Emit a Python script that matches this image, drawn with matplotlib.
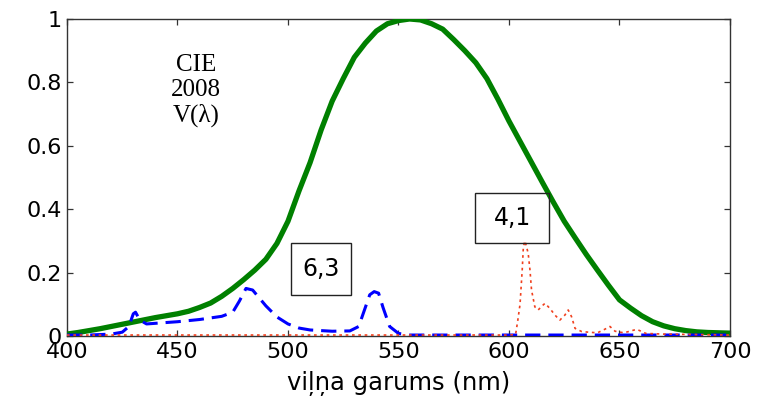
import matplotlib
matplotlib.use("Agg")
import matplotlib.pyplot as plt
from matplotlib.patches import Rectangle

# CIE 2008 V(lambda) - green solid
wl_v = [400, 405, 410, 415, 420, 425, 430, 435, 440, 445, 450, 455, 460, 465, 470,
        475, 480, 485, 490, 495, 500, 505, 510, 515, 520, 525, 530, 535, 540, 545,
        550, 555, 560, 565, 570, 575, 580, 585, 590, 595, 600, 605, 610, 615, 620,
        625, 630, 635, 640, 645, 650, 655, 660, 665, 670, 675, 680, 685, 690, 695, 700]
v_lambda = [0.006, 0.011, 0.017, 0.023, 0.030, 0.037, 0.044, 0.051, 0.058, 0.064, 0.070,
            0.078, 0.090, 0.104, 0.125, 0.150, 0.178, 0.208, 0.242, 0.292, 0.362, 0.458,
            0.547, 0.650, 0.741, 0.812, 0.879, 0.924, 0.962, 0.985, 0.995, 1.000, 0.997,
            0.985, 0.968, 0.935, 0.900, 0.862, 0.812, 0.747, 0.678, 0.614, 0.550, 0.486,
            0.423, 0.362, 0.309, 0.257, 0.208, 0.160, 0.114, 0.088, 0.064, 0.045, 0.032,
            0.023, 0.017, 0.013, 0.011, 0.010, 0.009]

# Spectrum "6,3" - blue dashed
wl_b = [400, 410, 420, 425, 428, 430, 431, 433, 436, 440, 450, 460, 470, 475, 478,
        481, 484, 487, 490, 495, 500, 505, 510, 520, 528, 532, 535, 537, 539, 541,
        543, 546, 550, 555, 600, 650, 700]
spec_63 = [0.003, 0.003, 0.006, 0.012, 0.030, 0.070, 0.075, 0.050, 0.038, 0.040, 0.045,
           0.052, 0.062, 0.075, 0.110, 0.150, 0.145, 0.120, 0.095, 0.060, 0.038, 0.025,
           0.019, 0.015, 0.016, 0.030, 0.090, 0.130, 0.140, 0.135, 0.090, 0.030, 0.008,
           0.003, 0.003, 0.003, 0.003]

# Spectrum "4,1" - red dotted
wl_r = [400, 500, 600, 603, 604, 605, 606, 606.5, 607.2, 608, 608.7, 609.5, 610.2,
        611.7, 613.2, 615, 616.3, 618.5, 620.8, 623, 625.3, 626.8, 628.3, 629.9,
        632.9, 636, 640, 643, 645.7, 648, 652, 657.8, 662, 670, 680, 690, 700]
spec_41 = [0.003, 0.003, 0.003, 0.005, 0.050, 0.100, 0.210, 0.280, 0.300, 0.280, 0.260,
           0.208, 0.145, 0.092, 0.082, 0.095, 0.103, 0.087, 0.066, 0.050, 0.066, 0.082,
           0.061, 0.024, 0.014, 0.012, 0.010, 0.020, 0.030, 0.015, 0.010, 0.021, 0.008,
           0.006, 0.005, 0.004, 0.003]

x_ticks = [400, 450, 500, 550, 600, 650, 700]
y_ticks = [0, 0.2, 0.4, 0.6, 0.8, 1]
y_tick_labels = ["0", "0.2", "0.4", "0.6", "0.8", "1"]
x_label = "viļņa garums (nm)"
curve_label = "CIE\n2008\nV(λ)"
box_labels = ["6,3", "4,1"]

sans = ["DejaVu Sans"]
serif = ["Liberation Serif", "DejaVu Serif"]

fig = plt.figure(figsize=(7.57, 4.05), dpi=100)
ax = fig.add_axes([0.0885, 0.1704, 0.8758, 0.7827])

ax.plot(wl_v, v_lambda, color="#008000", lw=3.8, solid_capstyle="butt", zorder=3)
ax.plot(wl_b, spec_63, color="#0000ff", lw=2.2, dashes=(5, 2.6), zorder=4)
ax.plot(wl_r, spec_41, color="#f0401e", lw=1.2, dashes=(1.6, 2.2), zorder=5)

ax.set_xlim(400, 700)
ax.set_ylim(0, 1)
ax.set_xticks(x_ticks)
ax.set_yticks(y_ticks)
ax.set_yticklabels(y_tick_labels)
ax.tick_params(direction="in", length=4.5, width=0.9, top=True, right=True,
               labelsize=16, pad=4, color="#333333")
for lab in ax.get_xticklabels() + ax.get_yticklabels():
    lab.set_family(sans)
for sp in ax.spines.values():
    sp.set_linewidth(1.0)
    sp.set_color("#333333")

ax.set_xlabel(x_label, fontsize=17.5, family=sans, labelpad=7)

ax.text(458.5, 0.775, curve_label, ha="center", va="center", fontsize=18,
        family=serif, linespacing=1.17)

# boxed annotations
box_pos = [(501.2, 0.129, 27.2, 0.163), (584.6, 0.292, 33.6, 0.158)]
for (x0, y0, w, h), lab in zip(box_pos, box_labels):
    ax.add_patch(Rectangle((x0, y0), w, h, facecolor="none", edgecolor="#222222",
                           lw=1.0, zorder=6))
    ax.text(x0 + w / 2, y0 + h / 2, lab, ha="center", va="center",
            fontsize=17, family=sans, zorder=7)

fig.savefig("out.png", dpi=100)
